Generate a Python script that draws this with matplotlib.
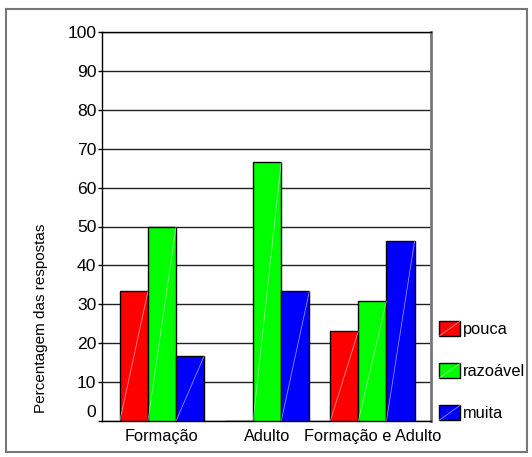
import matplotlib
matplotlib.use('Agg')
import matplotlib.pyplot as plt
import matplotlib.transforms as mtransforms
from matplotlib.legend_handler import HandlerPatch
from matplotlib.patches import Rectangle
from matplotlib.lines import Line2D
import numpy as np

plt.rcParams['font.family'] = ['Liberation Sans', 'DejaVu Sans']

categories = ['Formação', 'Adulto', 'Formação e Adulto']
series_names = ['pouca', 'razoável', 'muita']
pouca = [33.3, 0.0, 23.1]
razoavel = [50.0, 66.7, 30.8]
muita = [16.7, 33.3, 46.2]
yticks = [0, 10, 20, 30, 40, 50, 60, 70, 80, 90, 100]

colors = ['#ff0000', '#00ff00', '#0000ff']


class DiagHandler(HandlerPatch):
    # legend key: filled box with the same light diagonal stroke as the bars
    def create_artists(self, legend, orig_handle, xdescent, ydescent,
                       width, height, fontsize, trans):
        rect = Rectangle((-xdescent, -ydescent), width, height,
                         facecolor=orig_handle.get_facecolor(),
                         edgecolor='black', linewidth=1.0, transform=trans)
        line = Line2D([-xdescent, -xdescent + width],
                      [-ydescent, -ydescent + height],
                      color='white', alpha=0.55, linewidth=0.6, transform=trans)
        return [rect, line]


W, H = 532, 457
fig = plt.figure(figsize=(W / 100, H / 100), dpi=100)
ax = fig.add_axes([102 / W, 1 - 421 / H, 329 / W, 389 / H])

x = np.arange(len(categories))
width = 0.267
data = [pouca, razoavel, muita]

bars_all = []
for i, (vals, col) in enumerate(zip(data, colors)):
    bars = ax.bar(x + (i - 1) * width, vals, width, color=col,
                  edgecolor='black', linewidth=1.0, zorder=3,
                  label=series_names[i])
    bars_all.append(bars)
    # thin light diagonal across each bar
    for b in bars:
        h = b.get_height()
        if h > 0:
            x0 = b.get_x()
            ax.plot([x0, x0 + b.get_width()], [0, h], color='white',
                    alpha=0.55, linewidth=0.6, zorder=4)

ax.set_xlim(-0.570, 2.557)
ax.set_ylim(0, 100)
ax.set_yticks(yticks)
ax.set_yticklabels([str(t) for t in yticks])
ax.set_xticks(x)
ax.set_xticklabels(categories)

ax.yaxis.grid(True, color='#222222', linewidth=1.0, zorder=0)
ax.set_axisbelow(True)

ax.tick_params(axis='y', length=3, width=1, pad=1, labelsize=12.6, direction='out')
ax.tick_params(axis='x', length=0, pad=6, labelsize=11.8)

# the "0" label sits a little above the baseline
zero_lbl = ax.get_yticklabels()[0]
zero_lbl.set_transform(zero_lbl.get_transform() +
                       mtransforms.ScaledTranslation(0, 10 / 100, fig.dpi_scale_trans))

for side in ['left', 'bottom', 'top']:
    ax.spines[side].set_color('black')
    ax.spines[side].set_linewidth(1.0)
ax.spines['right'].set_color('#777777')
ax.spines['right'].set_linewidth(2.0)

ax.text(-0.1854, 0.265, 'Percentagem das respostas', rotation=90,
        ha='center', va='center', fontsize=11, transform=ax.transAxes)

ax.legend(handles=[b.patches[0] for b in bars_all], labels=series_names,
          handler_map={Rectangle: DiagHandler()},
          loc='upper left', bbox_to_anchor=(439 / W, 1 - 321 / H),
          bbox_transform=fig.transFigure, frameon=False,
          fontsize=11.8, borderpad=0, borderaxespad=0,
          handlelength=1.3, handleheight=1.05, handletextpad=0.15,
          labelspacing=1.58)

# outer chart frame
fig.patches.append(Rectangle((6 / W, 1 - 452 / H), 521 / W, 443 / H,
                             transform=fig.transFigure, fill=False,
                             edgecolor='#777777', linewidth=1.5))

fig.savefig('out.png', dpi=100)
